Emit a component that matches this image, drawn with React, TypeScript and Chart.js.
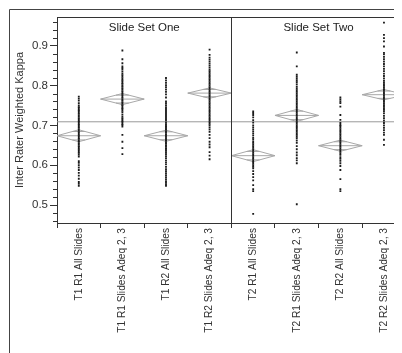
import React, { useEffect, useRef } from "react";
import { Chart, registerables } from "chart.js";

Chart.register(...registerables);

const CATEGORIES = [
  "T1 R1 All Slides",
  "T1 R1 Slides Adeq 2, 3",
  "T1 R2 All Slides",
  "T1 R2 Slides Adeq 2, 3",
  "T2 R1 All Slides",
  "T2 R1 Slides Adeq 2, 3",
  "T2 R2 All Slides",
  "T2 R2 Slides Adeq 2, 3",
];
const PANELS = ["Slide Set One", "Slide Set Two"];
const Y_TICKS = [0.5, 0.6, 0.7, 0.8, 0.9];
const Y_TITLE = "Inter Rater Weighted Kappa";

const T1R1_ALL = [0.548,0.553,0.558,0.566,0.574,0.581,0.588,0.594,0.6,0.606,0.61,0.622,0.627,0.631,0.634,0.638,0.641,0.645,0.648,0.652,0.655,0.659,0.662,0.666,0.669,0.673,0.676,0.68,0.683,0.687,0.69,0.694,0.697,0.701,0.704,0.708,0.711,0.715,0.718,0.722,0.725,0.729,0.732,0.736,0.739,0.743,0.746,0.75,0.756,0.762,0.767,0.772];
const T1R1_ADEQ = [0.628,0.643,0.659,0.676,0.697,0.701,0.704,0.708,0.711,0.715,0.718,0.722,0.727,0.733,0.737,0.741,0.744,0.748,0.751,0.755,0.758,0.762,0.765,0.769,0.772,0.776,0.779,0.783,0.786,0.79,0.793,0.797,0.8,0.804,0.807,0.811,0.814,0.818,0.822,0.826,0.83,0.835,0.84,0.844,0.848,0.856,0.866,0.888];
const T1R2_ALL = [0.548,0.552,0.556,0.56,0.565,0.57,0.575,0.58,0.585,0.59,0.596,0.602,0.607,0.612,0.618,0.623,0.628,0.632,0.636,0.64,0.643,0.647,0.65,0.654,0.657,0.661,0.664,0.668,0.671,0.675,0.678,0.682,0.685,0.689,0.692,0.696,0.699,0.703,0.707,0.712,0.716,0.721,0.726,0.731,0.736,0.741,0.746,0.751,0.756,0.76,0.77,0.778,0.784,0.79,0.796,0.801,0.807,0.813,0.819];
const T1R2_ADEQ = [0.615,0.624,0.633,0.645,0.652,0.659,0.668,0.676,0.684,0.69,0.695,0.7,0.704,0.708,0.712,0.716,0.72,0.724,0.728,0.732,0.736,0.74,0.744,0.748,0.752,0.756,0.76,0.764,0.768,0.772,0.776,0.78,0.784,0.788,0.792,0.796,0.8,0.804,0.808,0.812,0.816,0.82,0.824,0.828,0.832,0.836,0.84,0.845,0.85,0.855,0.86,0.865,0.87,0.877,0.89];
const T2R1_ALL = [0.478,0.535,0.54,0.55,0.562,0.57,0.578,0.585,0.592,0.596,0.6,0.604,0.608,0.612,0.616,0.62,0.624,0.628,0.632,0.636,0.64,0.644,0.648,0.652,0.656,0.66,0.665,0.669,0.675,0.68,0.685,0.69,0.695,0.7,0.707,0.713,0.72,0.726,0.731,0.735];
const T2R1_ADEQ = [0.502,0.605,0.612,0.618,0.625,0.632,0.64,0.648,0.656,0.662,0.668,0.672,0.676,0.68,0.684,0.688,0.692,0.696,0.7,0.704,0.708,0.712,0.716,0.72,0.724,0.728,0.732,0.736,0.74,0.744,0.748,0.752,0.756,0.76,0.764,0.768,0.772,0.776,0.78,0.784,0.788,0.792,0.797,0.803,0.808,0.812,0.817,0.822,0.827,0.848,0.883];
const T2R2_ALL = [0.535,0.54,0.565,0.588,0.598,0.605,0.611,0.616,0.62,0.626,0.63,0.634,0.638,0.642,0.646,0.65,0.654,0.658,0.662,0.666,0.67,0.674,0.678,0.682,0.686,0.69,0.694,0.698,0.701,0.706,0.714,0.726,0.747,0.756,0.76,0.765,0.77];
const T2R2_ADEQ = [0.651,0.664,0.676,0.682,0.688,0.694,0.7,0.706,0.712,0.718,0.724,0.73,0.735,0.739,0.743,0.747,0.751,0.755,0.759,0.763,0.767,0.771,0.775,0.779,0.783,0.787,0.791,0.795,0.799,0.803,0.807,0.812,0.818,0.824,0.83,0.836,0.842,0.848,0.854,0.86,0.866,0.872,0.878,0.882,0.898,0.911,0.919,0.927,0.958];

const GROUPS = [T1R1_ALL, T1R1_ADEQ, T1R2_ALL, T1R2_ADEQ, T2R1_ALL, T2R1_ADEQ, T2R2_ALL, T2R2_ADEQ];
const MEANS = [0.674, 0.766, 0.674, 0.781, 0.624, 0.725, 0.649, 0.777];
const CI_HALF = [0.015, 0.014, 0.014, 0.013, 0.015, 0.015, 0.014, 0.013];
const GRAND_MEAN = 0.709;

const FONT = "'Liberation Sans', Arial, sans-serif";

export default function App() {
  const ref = useRef<HTMLCanvasElement | null>(null);

  useEffect(() => {
    if (!ref.current) return;
    const n = CATEGORIES.length;

    const points: any[] = [];
    GROUPS.forEach((g, i) => g.forEach((v) => points.push({ x: i + 0.5, y: v })));

    const diamonds: any[] = [];
    MEANS.forEach((m, i) => {
      const h = CI_HALF[i];
      const c = i + 0.5;
      const o = h / Math.SQRT2;
      const hw = 0.5 * (1 - o / h);
      diamonds.push({ x: i, y: m }, { x: c, y: m + h }, { x: i + 1, y: m }, { x: c, y: m - h }, { x: i, y: m }, { x: i + 1, y: m }, { x: i + 1, y: null });
      diamonds.push({ x: c - hw, y: m + o }, { x: c + hw, y: m + o }, { x: c + hw, y: null });
      diamonds.push({ x: c - hw, y: m - o }, { x: c + hw, y: m - o }, { x: c + hw, y: null });
    });

    const deco = {
      id: "deco",
      afterDraw(chart: any) {
        const ctx = chart.ctx;
        const a = chart.chartArea;
        const xs = chart.scales.x;
        const ys = chart.scales.y;
        ctx.save();
        ctx.strokeStyle = "#444";
        ctx.lineWidth = 1;
        ctx.beginPath();
        ctx.moveTo(1.5, chart.height);
        ctx.lineTo(1.5, 1.5);
        ctx.lineTo(chart.width, 1.5);
        ctx.stroke();
        ctx.strokeStyle = "#333";
        ctx.beginPath();
        ctx.moveTo(a.left, Math.round(a.top) + 0.5);
        ctx.lineTo(a.right, Math.round(a.top) + 0.5);
        const dx = Math.round(xs.getPixelForValue(n / 2)) + 0.5;
        ctx.moveTo(dx, a.top);
        ctx.lineTo(dx, a.bottom);
        ctx.stroke();
        ctx.beginPath();
        for (let k = 23; k <= 48; k++) {
          if (k % 5 === 0) continue;
          const py = Math.round(ys.getPixelForValue(k / 50)) + 0.5;
          if (py < a.top || py > a.bottom) continue;
          ctx.moveTo(a.left - 4, py);
          ctx.lineTo(a.left, py);
        }
        ctx.stroke();
        ctx.fillStyle = "#222";
        ctx.font = `11.5px ${FONT}`;
        ctx.textAlign = "center";
        ctx.textBaseline = "middle";
        PANELS.forEach((p, j) => {
          const px = xs.getPixelForValue(j * (n / 2) + n / 4);
          ctx.fillText(p, px, a.top + 11);
        });
        ctx.restore();
      },
    };

    const chart = new Chart(ref.current, {
      type: "scatter",
      data: {
        datasets: [
          {
            type: "scatter",
            data: points,
            pointStyle: "rect",
            pointRadius: 1.3,
            pointBackgroundColor: "#1a1a1a",
            pointBorderWidth: 0,
            order: 0,
          } as any,
          {
            type: "line",
            data: diamonds,
            borderColor: "#a8a8a8",
            borderWidth: 1,
            pointRadius: 0,
            spanGaps: false,
            tension: 0,
            order: 1,
          } as any,
          {
            type: "line",
            data: [{ x: 0, y: GRAND_MEAN }, { x: n, y: GRAND_MEAN }],
            borderColor: "#9a9a9a",
            borderWidth: 1,
            pointRadius: 0,
            order: 2,
          } as any,
        ],
      },
      options: {
        animation: false,
        responsive: false,
        events: [],
        layout: { padding: { top: 9, left: 0, right: 0, bottom: 0 } },
        plugins: { legend: { display: false }, tooltip: { enabled: false } },
        scales: {
          x: {
            type: "linear",
            min: 0,
            max: n,
            afterBuildTicks: (s: any) => {
              const t = [];
              for (let k = 0; k <= 2 * n; k++) t.push({ value: k / 2 });
              s.ticks = t;
            },
            afterFit: (s: any) => {
              s.height = 130;
            },
            grid: {
              drawOnChartArea: false,
              tickLength: 5,
              tickColor: (c: any) => (c.tick && Number.isInteger(c.tick.value) ? "#333" : "rgba(0,0,0,0)"),
            },
            border: { color: "#333" },
            ticks: {
              autoSkip: false,
              minRotation: 90,
              maxRotation: 90,
              padding: 0,
              color: "#333",
              font: { family: FONT, size: 10.2 },
              callback: (v: any) => {
                const val = Number(v);
                return Number.isInteger(val) ? "" : CATEGORIES[Math.floor(val)];
              },
            },
          },
          y: {
            type: "linear",
            min: 0.455,
            max: 0.972,
            afterBuildTicks: (s: any) => {
              s.ticks = Y_TICKS.map((v) => ({ value: v }));
            },
            afterFit: (s: any) => {
              s.width = 49;
            },
            grid: { drawOnChartArea: false, tickLength: 7, tickColor: "#333" },
            border: { color: "#333" },
            ticks: {
              padding: 2,
              color: "#333",
              font: { family: FONT, size: 11.5 },
              callback: (v: any) => Number(v).toFixed(1),
            },
            title: {
              display: true,
              text: Y_TITLE,
              color: "#333",
              font: { family: FONT, size: 11 },
              padding: { top: 5, bottom: 0 },
            },
          },
        },
      },
      plugins: [deco],
    } as any);
    return () => chart.destroy();
  }, []);

  return (
    <div style={{ width: 394, height: 345, overflow: "hidden", background: "#fff" }}>
      <canvas ref={ref} width={410} height={345} style={{ display: "block", width: 410, height: 345 }} />
    </div>
  );
}
